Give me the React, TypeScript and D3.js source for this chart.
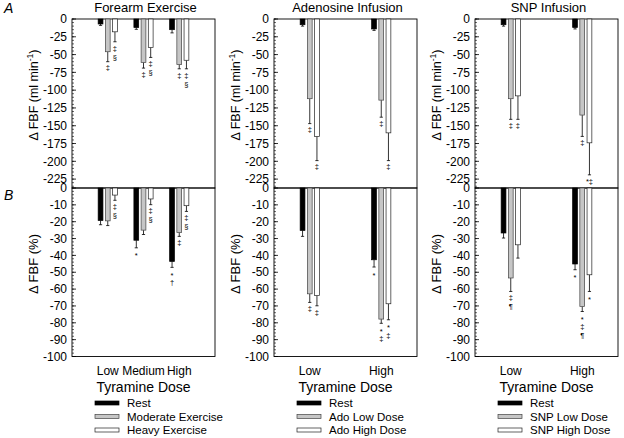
import React from "react";
import * as d3 from "d3";

// ---------- data ----------
const panelTitles = ["Forearm Exercise", "Adenosine Infusion", "SNP Infusion"];
const catsExercise = ["Low", "Medium", "High"];
const catsInfusion = ["Low", "High"];
const topTicks = [0, -25, -50, -75, -100, -125, -150, -175, -200, -225];
const bottomTicks = [0, -10, -20, -30, -40, -50, -60, -70, -80, -90, -100];

const legendExercise = ["Rest", "Moderate Exercise", "Heavy Exercise"];
const legendAdo = ["Rest", "Ado Low Dose", "Ado High Dose"];
const legendSnp = ["Rest", "SNP Low Dose", "SNP High Dose"];

// Panel A (ml min-1)
const aExRest = [-7, -12, -15];
const aExRestErr = [2, 2.5, 4.5];
const aExMod = [-46, -61, -64];
const aExModErr = [14, 8, 6];
const aExHeavy = [-18, -40, -58];
const aExHeavyErr = [14, 14, 12];
const aExAnn = [
  [[], [], []],
  [["‡"], ["‡"], ["‡"]],
  [["‡", "§"], ["‡", "§"], ["‡", "§"]],
];

const aAdoRest = [-8, -14];
const aAdoRestErr = [2, 2];
const aAdoLow = [-112, -114];
const aAdoLowErr = [35, 24];
const aAdoHigh = [-165, -160];
const aAdoHighErr = [34, 39];
const aAdoAnn = [
  [[], []],
  [["‡"], ["‡"]],
  [["‡"], ["‡"]],
];

const aSnpRest = [-8, -12];
const aSnpRestErr = [2, 2];
const aSnpLow = [-112, -135];
const aSnpLowErr = [29, 30];
const aSnpHigh = [-108, -174];
const aSnpHighErr = [33, 45];
const aSnpAnn = [
  [[], []],
  [["‡"], ["‡"]],
  [["‡"], ["*‡"]],
];

// Panel B (%)
const bExRest = [-19.3, -31, -43.6];
const bExRestErr = [2.5, 4.5, 3.5];
const bExMod = [-19.5, -25, -26.4];
const bExModErr = [2.8, 2.6, 2.3];
const bExHeavy = [-4.2, -6.5, -10.5];
const bExHeavyErr = [3.1, 3.4, 3.4];
const bExAnn = [
  [[], ["*"], ["*", "†"]],
  [[], [], ["‡"]],
  [["‡", "§"], ["‡", "§"], ["‡", "§"]],
];

const bAdoRest = [-25.2, -42.6];
const bAdoRestErr = [3.5, 4.3];
const bAdoLow = [-62.8, -77.8];
const bAdoLowErr = [5.1, 2.5];
const bAdoHigh = [-63.8, -68.7];
const bAdoHighErr = [6.1, 9.5];
const bAdoAnn = [
  [[], ["*"]],
  [["‡"], ["*", "‡"]],
  [["‡"], ["*", "‡"]],
];

const bSnpRest = [-26.7, -45.1];
const bSnpRestErr = [3, 3.4];
const bSnpLow = [-53.4, -70.3];
const bSnpLowErr = [8, 3];
const bSnpHigh = [-33.7, -51.5];
const bSnpHighErr = [7.9, 9.9];
const bSnpAnn = [
  [[], ["*"]],
  [["‡", "¶"], ["*", "‡", "¶"]],
  [[], ["*"]],
];

// ---------- layout ----------
const W = 624;
const H = 438;
const FONT = "'Liberation Sans', Arial, Helvetica, sans-serif";
const SYM_FONT = "'Liberation Sans', 'DejaVu Sans', sans-serif";
const panelX = [72, 274, 475];
const PW = 143;
const TOP_Y0 = 19;
const MID_Y = 188;
const BOT_Y1 = 356.5;
const BAR_W = 4.8;
const BAR_STEP = 7.2;

const fills = ["#000", "#c6c6c6", "#fff"];
const strokes = ["#000", "#444", "#222"];

type Series = { v: number[]; e: number[] };

function Bars({
  x0,
  cats,
  series,
  ann,
  y,
}: {
  x0: number;
  cats: string[];
  series: Series[];
  ann: string[][][];
  y: d3.ScaleLinear<number, number>;
}) {
  const positions = cats.length === 3 ? [1, 2, 3] : [1, 3];
  const xs = d3
    .scaleLinear()
    .domain([0, 4])
    .range([x0, x0 + PW]);
  const out: React.ReactNode[] = [];
  cats.forEach((c, i) => {
    const cx = xs(positions[i]);
    series.forEach((s, j) => {
      const bx = cx + (j - 1) * BAR_STEP;
      const v = s.v[i];
      const tip = v - s.e[i];
      const y0 = y(0);
      const yv = y(v);
      const yt = y(tip);
      out.push(
        <g key={`${i}-${j}`}>
          <line x1={bx} x2={bx} y1={yv} y2={yt} stroke="#000" strokeWidth={0.8} />
          <line x1={bx - 1.6} x2={bx + 1.6} y1={yt} y2={yt} stroke="#000" strokeWidth={0.8} />
          <rect
            x={bx - BAR_W / 2}
            y={Math.min(y0, yv)}
            width={BAR_W}
            height={Math.abs(yv - y0)}
            fill={fills[j]}
            stroke={strokes[j]}
            strokeWidth={0.7}
          />
          {(ann[j][i] || []).map((t, k) => {
            const cy = yt + 6 + k * 9;
            const base = t === "*" ? cy + 4.6 : cy + 2.8;
            return (
              <text
                key={k}
                x={bx}
                y={base}
                textAnchor="middle"
                fontSize={7.5}
                fontFamily={SYM_FONT}
                fill="#000"
              >
                {t}
              </text>
            );
          })}
        </g>
      );
    });
  });
  return <g>{out}</g>;
}

function Axis({
  x0,
  y,
  ticks,
  minorStep,
}: {
  x0: number;
  y: d3.ScaleLinear<number, number>;
  ticks: number[];
  minorStep: number;
}) {
  const [dmin, dmax] = y.domain();
  const minors = d3.range(dmax, dmin - 0.001, -minorStep);
  return (
    <g>
      {minors.map((m, i) => (
        <line key={"m" + i} x1={x0} x2={x0 + 2} y1={y(m)} y2={y(m)} stroke="#000" strokeWidth={0.6} />
      ))}
      {ticks.map((t) => (
        <g key={t}>
          <line x1={x0} x2={x0 + 4} y1={y(t)} y2={y(t)} stroke="#000" strokeWidth={0.8} />
          <text
            x={x0 - 5}
            y={y(t) + 4.2}
            textAnchor="end"
            fontSize={12}
            fontFamily={FONT}
            fill="#000"
          >
            {t}
          </text>
        </g>
      ))}
    </g>
  );
}

export default function App() {
  const yTop = d3.scaleLinear().domain([-237.5, 0]).range([MID_Y, TOP_Y0]);
  const yBot = d3.scaleLinear().domain([-100, 0]).range([BOT_Y1, MID_Y]);

  const topSeries: Series[][] = [
    [
      { v: aExRest, e: aExRestErr },
      { v: aExMod, e: aExModErr },
      { v: aExHeavy, e: aExHeavyErr },
    ],
    [
      { v: aAdoRest, e: aAdoRestErr },
      { v: aAdoLow, e: aAdoLowErr },
      { v: aAdoHigh, e: aAdoHighErr },
    ],
    [
      { v: aSnpRest, e: aSnpRestErr },
      { v: aSnpLow, e: aSnpLowErr },
      { v: aSnpHigh, e: aSnpHighErr },
    ],
  ];
  const botSeries: Series[][] = [
    [
      { v: bExRest, e: bExRestErr },
      { v: bExMod, e: bExModErr },
      { v: bExHeavy, e: bExHeavyErr },
    ],
    [
      { v: bAdoRest, e: bAdoRestErr },
      { v: bAdoLow, e: bAdoLowErr },
      { v: bAdoHigh, e: bAdoHighErr },
    ],
    [
      { v: bSnpRest, e: bSnpRestErr },
      { v: bSnpLow, e: bSnpLowErr },
      { v: bSnpHigh, e: bSnpHighErr },
    ],
  ];
  const topAnn = [aExAnn, aAdoAnn, aSnpAnn];
  const botAnn = [bExAnn, bAdoAnn, bSnpAnn];
  const catsList = [catsExercise, catsInfusion, catsInfusion];
  const legends = [legendExercise, legendAdo, legendSnp];

  return (
    <svg
      width={W}
      height={H}
      style={{ position: "absolute", left: 0, top: 0, background: "#fff" }}
      fontFamily={FONT}
    >
      <rect x={0} y={0} width={W} height={H} fill="#fff" />
      <text x={4} y={12.7} fontSize={14} fontStyle="italic">A</text>
      <text x={4} y={200} fontSize={14} fontStyle="italic">B</text>
      {panelX.map((x0, p) => {
        const cats = catsList[p];
        const positions = cats.length === 3 ? [1, 2, 3] : [1, 3];
        const xs = d3.scaleLinear().domain([0, 4]).range([x0, x0 + PW]);
        return (
          <g key={p}>
            <text x={x0 + PW / 2 + 2} y={12} fontSize={13} textAnchor="middle">
              {panelTitles[p]}
            </text>
            {/* top panel */}
            <rect x={x0} y={TOP_Y0} width={PW} height={MID_Y - TOP_Y0} fill="none" stroke="#000" strokeWidth={0.9} />
            <Axis x0={x0} y={yTop} ticks={topTicks} minorStep={5} />
            <Bars x0={x0} cats={cats} series={topSeries[p]} ann={topAnn[p]} y={yTop} />
            <text
              transform={`translate(${x0 - 34},95) rotate(-90)`}
              textAnchor="middle"
              fontSize={12.5}
            >
              Δ FBF (ml min
              <tspan fontSize={8.5} dy={-5}>-1</tspan>
              <tspan dy={5}>)</tspan>
            </text>
            {/* bottom panel */}
            <rect x={x0} y={MID_Y} width={PW} height={BOT_Y1 - MID_Y} fill="none" stroke="#000" strokeWidth={0.9} />
            <Axis x0={x0} y={yBot} ticks={bottomTicks} minorStep={2} />
            <Bars x0={x0} cats={cats} series={botSeries[p]} ann={botAnn[p]} y={yBot} />
            <text
              transform={`translate(${x0 - 34},264) rotate(-90)`}
              textAnchor="middle"
              fontSize={13}
            >
              Δ FBF (%)
            </text>
            {cats.map((c, i) => (
              <text key={c} x={xs(positions[i])} y={374.5} fontSize={12} textAnchor="middle">
                {c}
              </text>
            ))}
            <text x={x0 + PW / 2} y={392} fontSize={14} textAnchor="middle">
              Tyramine Dose
            </text>
            {legends[p].map((l, k) => {
              const cy = 403 + k * 13.5;
              return (
                <g key={l}>
                  <rect
                    x={x0 + 23}
                    y={cy - 2}
                    width={24}
                    height={4}
                    fill={fills[k]}
                    stroke={strokes[k]}
                    strokeWidth={0.7}
                  />
                  <text x={x0 + 55} y={cy + 4} fontSize={11.5}>
                    {l}
                  </text>
                </g>
              );
            })}
          </g>
        );
      })}
    </svg>
  );
}
